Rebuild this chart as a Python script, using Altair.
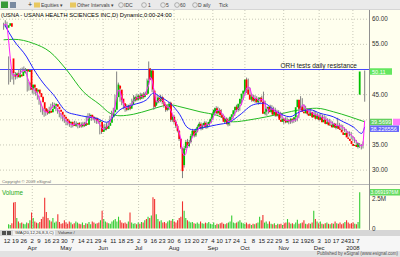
import altair as alt
import pandas as pd

HOLIDAYS = ["2007-04-06", "2007-05-28", "2007-07-04", "2007-09-03",
            "2007-11-22", "2007-12-25", "2008-01-01"]

OPEN = [58.3, 58.7, 59.2, 52.2, 49.0, 48.7, 49.2, 48.4, 49.0, 48.7,
        49.4, 49.7, 50.0, 49.5, 49.9, 46.2, 47.0, 46.3, 45.6, 46.0,
        45.3, 44.6, 43.5, 42.3, 41.8, 41.3, 41.8, 41.5, 42.2, 42.8,
        43.1, 42.6, 42.0, 41.6, 41.0, 40.6, 40.2, 39.8, 39.3, 39.6,
        39.0, 38.8, 39.2, 39.4, 39.0, 38.7, 39.2, 38.8, 39.3, 39.0,
        40.5, 41.0, 40.6, 40.2, 40.4, 39.8, 39.6, 39.6, 37.6, 38.0,
        38.6, 38.2, 38.8, 39.4, 40.5, 41.5, 42.0, 44.5, 46.8, 46.0,
        44.2, 43.3, 42.5, 42.0, 42.8, 42.2, 43.0, 43.8, 44.5, 44.0,
        44.8, 44.2, 45.0, 44.5, 45.2, 45.2, 50.2, 48.2, 49.8, 45.8,
        42.8, 43.5, 44.4, 43.8, 44.5, 43.5, 42.8, 42.0, 42.5, 43.4,
        40.0, 40.6, 39.6, 38.8, 37.8, 36.2, 34.3, 31.0, 34.4, 35.6,
        34.8, 35.6, 36.8, 37.8, 36.9, 37.9, 38.6, 39.2, 38.3, 38.9,
        39.4, 38.6, 39.1, 39.6, 40.2, 41.2, 41.4, 42.3, 41.3, 41.9,
        40.9, 40.5, 39.6, 40.2, 39.1, 39.8, 40.6, 41.1, 41.9, 42.6,
        42.0, 43.2, 44.2, 45.2, 45.6, 48.0, 46.0, 45.0, 44.0, 44.6,
        43.8, 44.3, 43.5, 44.1, 44.4, 43.6, 41.2, 41.6, 42.2, 42.6,
        41.5, 42.2, 41.0, 41.6, 40.8, 41.2, 40.0, 39.6, 40.2, 39.8,
        39.5, 40.0, 39.7, 40.2, 40.0, 40.5, 42.5, 44.0, 42.2, 42.6,
        41.6, 41.3, 42.0, 41.2, 40.8, 41.5, 40.5, 41.0, 40.2, 40.8,
        40.0, 40.5, 39.5, 40.0, 39.2, 39.5, 38.9, 39.0, 38.5, 39.2,
        38.4, 38.8, 38.2, 38.0, 37.5, 37.0, 37.4, 36.5, 36.2, 35.8,
        35.2, 34.8, 35.0, 34.6, 45.0]

HIGH = [59.3, 59.8, 59.5, 52.6, 50.0, 49.8, 49.6, 49.5, 49.4, 50.0,
        50.2, 50.4, 50.6, 50.3, 50.1, 47.6, 47.4, 46.8, 46.5, 46.3,
        45.6, 44.8, 43.7, 42.6, 42.3, 42.2, 42.1, 42.6, 43.2, 43.5,
        43.4, 42.9, 42.3, 41.9, 41.3, 40.9, 40.5, 40.1, 40.0, 39.9,
        39.4, 39.6, 39.8, 39.7, 39.3, 39.5, 39.5, 39.6, 39.6, 40.8,
        41.3, 41.3, 40.9, 40.8, 40.6, 40.1, 40.2, 39.7, 38.5, 39.0,
        39.2, 39.4, 39.7, 40.8, 41.8, 42.4, 45.0, 49.6, 47.4, 46.3,
        44.6, 43.6, 42.9, 43.1, 43.0, 43.3, 44.2, 44.9, 44.8, 45.2,
        45.1, 45.4, 45.3, 45.5, 45.6, 48.2, 51.6, 50.3, 50.0, 46.0,
        44.5, 45.0, 44.7, 45.0, 44.8, 43.8, 43.1, 43.0, 43.6, 43.6,
        41.0, 41.0, 40.0, 39.1, 38.0, 36.4, 34.5, 34.8, 36.0, 36.2,
        36.0, 37.2, 38.2, 38.0, 38.3, 39.0, 39.6, 39.5, 39.3, 39.7,
        39.7, 39.5, 40.0, 40.6, 41.6, 42.4, 42.7, 42.6, 42.3, 42.1,
        41.2, 40.8, 40.5, 40.4, 40.2, 41.0, 41.5, 42.3, 43.0, 43.0,
        43.6, 44.6, 45.6, 46.3, 48.4, 48.2, 46.4, 45.2, 45.0, 44.9,
        44.7, 44.5, 44.5, 44.8, 45.6, 43.8, 42.0, 42.6, 43.0, 42.9,
        42.6, 42.4, 42.0, 41.9, 41.6, 41.4, 40.3, 40.5, 40.5, 40.1,
        40.3, 40.3, 40.5, 40.5, 40.9, 42.8, 44.7, 44.3, 43.1, 42.8,
        42.0, 42.3, 42.2, 41.6, 41.8, 41.7, 41.3, 41.2, 41.3, 41.0,
        40.9, 40.7, 40.3, 40.2, 39.9, 39.7, 39.4, 39.3, 40.4, 39.4,
        39.1, 39.0, 38.5, 38.2, 37.8, 37.7, 37.6, 36.8, 36.5, 36.0,
        35.5, 35.4, 35.2, 35.7, 49.8]

LOW = [57.9, 58.4, 58.0, 47.0, 47.5, 48.0, 47.0, 48.0, 48.2, 48.4,
       49.1, 49.4, 49.3, 49.2, 45.6, 45.8, 45.9, 45.2, 45.1, 44.8,
       44.0, 43.0, 41.5, 41.0, 40.6, 40.8, 41.0, 41.2, 41.9, 42.4,
       42.2, 41.7, 41.2, 40.5, 40.2, 39.7, 39.4, 38.9, 38.9, 38.6,
       38.4, 38.5, 38.8, 38.6, 38.3, 38.4, 38.4, 38.5, 38.6, 38.8,
       40.2, 40.3, 39.8, 39.9, 39.4, 39.2, 39.2, 37.1, 37.2, 37.7,
       37.8, 37.9, 38.5, 39.2, 40.2, 41.1, 41.8, 44.2, 45.6, 43.6,
       42.9, 42.1, 41.6, 41.7, 41.9, 41.9, 42.7, 43.5, 43.6, 43.7,
       43.9, 43.9, 44.1, 44.2, 44.6, 45.0, 47.8, 47.9, 45.5, 42.0,
       42.4, 43.2, 43.3, 43.5, 43.1, 42.4, 41.6, 41.7, 41.9, 39.6,
       39.6, 39.2, 38.4, 37.5, 35.8, 34.2, 28.4, 30.5, 34.0, 34.4,
       34.5, 35.3, 36.5, 36.5, 36.6, 37.5, 38.3, 37.9, 38.0, 38.6,
       38.2, 38.3, 38.8, 39.3, 40.0, 40.9, 41.1, 41.0, 41.0, 40.6,
       40.1, 39.2, 39.3, 38.7, 38.8, 39.5, 40.2, 40.8, 41.5, 41.6,
       41.8, 42.9, 43.9, 44.8, 45.3, 45.6, 44.6, 43.6, 43.6, 43.4,
       43.4, 43.0, 43.1, 43.6, 43.2, 40.9, 40.8, 41.2, 41.8, 41.1,
       41.1, 40.6, 40.6, 40.4, 40.3, 39.6, 39.2, 39.3, 39.4, 39.1,
       39.2, 39.3, 39.4, 39.6, 39.7, 40.3, 42.2, 41.9, 41.8, 41.3,
       40.9, 41.0, 40.9, 40.4, 40.5, 40.1, 40.1, 39.8, 39.9, 39.6,
       39.7, 39.1, 39.1, 38.8, 38.8, 38.5, 38.5, 38.1, 38.2, 38.0,
       38.0, 37.8, 37.6, 37.1, 36.6, 36.7, 36.1, 35.8, 35.4, 34.8,
       34.3, 34.4, 34.1, 34.3, 43.6]

CLOSE = [58.8, 59.2, 58.5, 49.3, 48.6, 49.2, 48.5, 49.0, 48.6, 49.5,
         49.8, 50.0, 49.6, 49.9, 46.0, 47.0, 46.4, 45.6, 46.0, 45.2,
         44.5, 43.5, 42.2, 41.6, 41.3, 41.8, 41.4, 42.2, 42.8, 43.2,
         42.6, 42.1, 41.6, 41.0, 40.6, 40.2, 39.8, 39.3, 39.6, 39.0,
         38.8, 39.2, 39.4, 39.0, 38.7, 39.2, 38.8, 39.3, 39.0, 40.5,
         41.0, 40.6, 40.2, 40.4, 39.8, 39.6, 39.9, 37.6, 38.0, 38.6,
         38.2, 38.8, 39.4, 40.5, 41.5, 42.0, 44.5, 47.0, 46.2, 44.0,
         43.3, 42.5, 42.0, 42.8, 42.2, 43.0, 43.8, 44.5, 44.0, 44.8,
         44.2, 45.0, 44.5, 45.2, 45.0, 47.8, 48.0, 49.8, 46.0, 42.6,
         43.5, 44.4, 43.8, 44.5, 43.5, 42.8, 42.0, 42.5, 43.2, 40.0,
         40.6, 39.6, 38.8, 37.8, 36.2, 34.5, 29.8, 34.3, 35.6, 34.8,
         35.6, 36.8, 37.8, 36.9, 37.9, 38.6, 39.2, 38.3, 38.9, 39.4,
         38.6, 39.1, 39.6, 40.2, 41.2, 42.0, 42.3, 41.3, 41.9, 40.9,
         40.5, 39.6, 40.2, 39.1, 39.8, 40.6, 41.1, 41.9, 42.6, 42.0,
         43.2, 44.2, 45.2, 45.8, 48.0, 46.0, 45.0, 44.0, 44.6, 43.8,
         44.3, 43.5, 44.1, 44.4, 43.6, 41.2, 41.6, 42.2, 42.6, 41.5,
         42.2, 41.0, 41.6, 40.8, 41.2, 40.0, 39.6, 40.2, 39.8, 39.5,
         40.0, 39.7, 40.2, 40.0, 40.5, 42.5, 44.0, 42.2, 42.6, 41.6,
         41.3, 42.0, 41.2, 40.8, 41.5, 40.5, 41.0, 40.2, 40.8, 40.0,
         40.5, 39.5, 40.0, 39.2, 39.5, 38.9, 39.0, 38.5, 39.2, 38.4,
         38.8, 38.2, 38.0, 37.5, 37.0, 37.4, 36.5, 36.2, 35.8, 35.2,
         34.8, 35.0, 34.6, 35.4, 49.6]

VOLUME = [0.35, 0.3, 0.45, 2.2, 2.25, 0.9, 0.6, 0.45, 0.5, 0.4,
          0.35, 0.5, 0.45, 0.7, 1.35, 0.9, 0.6, 0.5, 0.45, 0.55,
          0.8, 1.0, 2.6, 1.4, 0.9, 0.7, 0.6, 0.9, 0.5, 0.6,
          1.2, 0.55, 0.4, 0.45, 0.7, 0.5, 0.4, 0.6, 0.5, 0.35,
          0.45, 0.6, 0.5, 0.4, 0.35, 0.5, 0.3, 0.45, 0.4, 0.55,
          0.35, 0.6, 0.5, 0.4, 0.45, 0.5, 0.7, 1.5, 0.8, 0.6,
          0.5, 0.45, 0.4, 0.6, 0.7, 0.8, 0.6, 1.0, 0.7, 0.5,
          0.45, 0.5, 0.4, 0.6, 1.35, 0.5, 0.4, 0.45, 0.35, 0.5,
          0.4, 0.55, 0.5, 0.7, 0.8, 1.0, 0.9, 1.1, 2.65, 2.5,
          1.2, 0.8, 0.6, 0.7, 0.5, 0.55, 0.45, 0.6, 0.7, 0.65,
          0.8, 0.6, 0.5, 0.7, 0.9, 1.0, 2.3, 1.5, 0.9, 0.7,
          0.6, 0.5, 0.55, 0.45, 0.4, 0.5, 0.4, 0.6, 0.45, 0.4,
          0.5, 0.45, 0.55, 0.4, 0.35, 0.5, 0.3, 0.4, 0.35, 0.45,
          0.5, 0.4, 0.35, 0.45, 0.5, 0.6, 1.1, 0.5, 0.45, 0.5,
          0.6, 0.7, 0.5, 0.45, 0.4, 0.5, 0.35, 0.4, 0.3, 0.4,
          0.35, 0.45, 0.5, 1.0, 0.7, 1.15, 0.5, 0.6, 0.4, 0.6,
          0.4, 0.35, 0.45, 0.3, 0.4, 0.35, 0.4, 0.3, 0.45, 0.5,
          0.8, 0.5, 0.4, 0.45, 0.35, 0.5, 0.75, 0.4, 0.45, 0.5,
          0.7, 0.4, 0.35, 0.45, 0.4, 0.5, 1.5, 0.8, 0.6, 0.45,
          0.6, 0.4, 0.35, 0.45, 0.5, 0.4, 0.35, 0.45, 0.4, 0.6,
          0.45, 0.4, 0.5, 0.35, 0.45, 0.55, 0.7, 0.5, 0.4, 0.45,
          0.5, 0.4, 0.35, 0.55, 3.07]

# moving averages (bar index, price)
GREEN_MA_IDX = [0, 6, 17.6, 27.5, 37.4, 47.2, 57.1, 63.1, 69, 76.9, 86.8, 92.7,
                98.6, 104.5, 116.4, 126.3, 136.1, 146, 155.9, 165.8, 175.6,
                185.5, 195.4, 205.3, 214]
GREEN_MA_VAL = [55.9, 56.0, 55.2, 53.5, 49.9, 45.6, 43.0, 41.3, 40.8, 41.1, 42.0, 42.6,
                43.0, 42.6, 41.6, 40.9, 39.6, 40.0, 40.6, 41.3, 42.0,
                42.3, 41.6, 40.6, 39.6]
BLUE_MA_IDX = [0.8, 5.8, 13.7, 17.6, 23.5, 29.5, 37.4, 43.3, 49.2, 55.2, 61.1, 65,
               69, 76.9, 84.8, 88.7, 92.7, 98.6, 104.5, 108.5, 112.4, 116.4, 126.3,
               134.2, 140.1, 148, 153.9, 161.8, 169.7, 175.6, 181.6, 187.5, 195.4,
               201.3, 207.2, 212.2, 214]
BLUE_MA_VAL = [58.8, 55.9, 52.5, 50.2, 47.3, 45.0, 41.6, 41.0, 40.6, 40.3, 39.5, 40.6,
               42.0, 43.0, 44.0, 45.3, 44.6, 43.3, 41.0, 38.6, 38.0, 38.3, 39.0,
               39.6, 41.0, 43.0, 43.3, 41.6, 40.6, 41.6, 42.0, 41.3, 40.6,
               39.6, 38.6, 37.3, 38.6]

PRICE_TICKS = [60, 55, 50, 45, 40, 35, 30]
PRICE_TICK_LABELS = ["60.00", "55.00", "", "45.00", "", "35.00", "30.00"]
RESISTANCE = 50.0
RESIST_LABEL = "ORH tests daily resistance"
VOL_TICK_VALUES = [2.5, 0]
VOL_TICK_LABELS = ["2.5M", "0"]
LAST_LABEL = "50.11"
GREEN_LABEL, GREEN_LAST = "39.5699", 39.57
BLUE_LABEL, BLUE_LAST = "38.226556", 38.23
PINK_LABEL = "41.22"
VOL_LAST_LABEL = "3.0691976M"
TITLE = "(USNA - USANA HEALTH SCIENCES INC,D) Dynamic,0:00-24:00"

FONT = "Liberation Sans"

days = [d for d in pd.bdate_range("2007-03-08", "2008-01-11")
        if d.strftime("%Y-%m-%d") not in HOLIDAYS]
n = len(days)
df = pd.DataFrame({"idx": range(n), "date": days, "O": OPEN, "H": HIGH,
                   "L": LOW, "C": CLOSE, "V": VOLUME})
df["col"] = ["#00C000" if c >= o else "#FF0000" for o, c in zip(OPEN, CLOSE)]
df["vcol"] = ["#33CC33" if c >= o else "#F03030" for o, c in zip(OPEN, CLOSE)]

wk = df[df["date"] >= pd.Timestamp("2007-03-12")].copy()
iso = wk["date"].dt.isocalendar()
wk["week"] = iso.week.astype(int) + 100 * iso.year.astype(int)
weeks = wk.groupby("week").first().reset_index()
weeks["label"] = weeks["date"].dt.day.astype(str)
mo = df.copy()
mo["ym"] = mo["date"].dt.year * 100 + mo["date"].dt.month
months = mo.groupby("ym").first().reset_index().iloc[1:].copy()
months["label"] = [("2008" if d.month == 1 else d.strftime("%b")) for d in months["date"]]
weeks = weeks[["idx", "label"]]
months = months[["idx", "label"]]
dfp = df.drop(columns=["date"])

X0, X1 = 3.6, 364.7
xs = alt.Scale(domain=[0, n - 1], range=[X0, X1], nice=False, zero=False)
ysp = alt.Scale(domain=[30, 60], range=[170.1, 19.2], nice=False, zero=False)
ysv = alt.Scale(domain=[0, 2.5], range=[228.5, 199.0], nice=False, zero=False)
X = alt.X("idx:Q", scale=xs, axis=None)
PLOT_R = 369

# ---------- chrome rectangles ----------
rects = pd.DataFrame([
    dict(x=0, x2=400, y=0, y2=10, f="#EAEAEA"),
    dict(x=0, x2=400, y=10, y2=184, f="#FFFFEE"),
    dict(x=0, x2=400, y=184, y2=185, f="#B8B8B8"),
    dict(x=0, x2=400, y=185, y2=230, f="#FFFFEE"),
    dict(x=0, x2=400, y=230, y2=236, f="#D6D6D6"),
    dict(x=0, x2=400, y=236, y2=251, f="#F6F6F6"),
    dict(x=0, x2=400, y=251, y2=257, f="#E2E2E2"),
    dict(x=PLOT_R, x2=PLOT_R + 1, y=10, y2=230, f="#909090"),
    dict(x=13, x2=55, y=230.5, y2=235.5, f="#F4F4F4"),
    dict(x=0, x2=400, y=9.5, y2=10, f="#C0C0C0"),
])
bg = alt.Chart(rects).mark_rect().encode(
    x=alt.X("x:Q", scale=None), x2="x2:Q",
    y=alt.Y("y:Q", scale=None), y2="y2:Q",
    color=alt.Color("f:N", scale=None))

# ---------- grid ----------
vgrid_p = alt.Chart(months).mark_rule(color="#C8C8B8", strokeDash=[1, 2], strokeWidth=1).encode(
    x=alt.X("idx:Q", scale=xs, axis=None), y=alt.value(10), y2=alt.value(184))
vgrid_v = alt.Chart(months).mark_rule(color="#C8C8B8", strokeDash=[1, 2], strokeWidth=1).encode(
    x=alt.X("idx:Q", scale=xs, axis=None), y=alt.value(186), y2=alt.value(229))
ptick_df = pd.DataFrame({"p": PRICE_TICKS, "label": PRICE_TICK_LABELS})
hgrid = alt.Chart(ptick_df).mark_rule(color="#C8C8B8", strokeDash=[1, 2]).encode(
    y=alt.Y("p:Q", scale=ysp, axis=None), x=alt.value(0), x2=alt.value(PLOT_R))

res_df = pd.DataFrame({"p": [RESISTANCE], "label": [RESIST_LABEL]})
res_line = alt.Chart(res_df).mark_rule(color="#4848FF", strokeWidth=1).encode(
    y=alt.Y("p:Q", scale=ysp, axis=None), x=alt.value(0), x2=alt.value(PLOT_R))
res_text = alt.Chart(res_df).mark_text(font=FONT, fontSize=6.5, align="right", baseline="bottom",
                                       dy=-1, color="#202020").encode(
    y=alt.Y("p:Q", scale=ysp, axis=None), x=alt.value(357), text="label:N")

# ---------- moving averages ----------
green_df = pd.DataFrame({"idx": GREEN_MA_IDX, "m": GREEN_MA_VAL})
blue_df = pd.DataFrame({"idx": BLUE_MA_IDX, "m": BLUE_MA_VAL})
ma_green = alt.Chart(green_df).mark_line(color="#22BB22", strokeWidth=1, interpolate="monotone").encode(
    x=X, y=alt.Y("m:Q", scale=ysp, axis=None))
ma_blue = alt.Chart(blue_df).mark_line(color="#2222FF", strokeWidth=1, interpolate="monotone").encode(
    x=X, y=alt.Y("m:Q", scale=ysp, axis=None))
ma_pink = alt.Chart(dfp).transform_window(
    m="mean(C)", frame=[-2, 0], sort=[alt.SortField("idx")]
).mark_line(color="#FF22FF", strokeWidth=1).encode(
    x=X, y=alt.Y("m:Q", scale=ysp, axis=None))

# ---------- candles ----------
wicks = alt.Chart(dfp).mark_rule(color="#808080", strokeWidth=1).encode(
    x=X, y=alt.Y("L:Q", scale=ysp, axis=None), y2="H:Q")
bodies = alt.Chart(dfp).mark_bar(size=1.8).encode(
    x=X, y=alt.Y("O:Q", scale=ysp, axis=None), y2="C:Q",
    color=alt.Color("col:N", scale=None))

# ---------- volume ----------
vol = alt.Chart(dfp).mark_bar(size=1.1).encode(
    x=X, y=alt.Y("V:Q", scale=ysv, axis=None), y2=alt.datum(0),
    color=alt.Color("vcol:N", scale=None))

# ---------- right axis labels ----------
plabels = alt.Chart(ptick_df).mark_text(font=FONT, fontSize=6.3, align="left", baseline="middle",
                                        color="#303030").encode(
    y=alt.Y("p:Q", scale=ysp, axis=None), x=alt.value(372), text="label:N")
vt_df = pd.DataFrame({"v": VOL_TICK_VALUES, "label": VOL_TICK_LABELS})
vlabels = alt.Chart(vt_df).mark_text(font=FONT, fontSize=6.3, align="left", baseline="middle",
                                     color="#303030").encode(
    y=alt.Y("v:Q", scale=ysv, axis=None), x=alt.value(372), text="label:N")

box_df = pd.DataFrame([
    dict(p=CLOSE[-1], label=LAST_LABEL, f="#22DD22", xc=381, w=22, tx=372),
    dict(p=GREEN_LAST, label=GREEN_LABEL, f="#22BB22", xc=381, w=22, tx=371),
    dict(p=BLUE_LAST, label=BLUE_LABEL, f="#2222FF", xc=384.5, w=29, tx=370.5),
])
pink_df = pd.DataFrame([dict(p=GREEN_LAST, label=PINK_LABEL, f="#FF44FF", xc=396.5, w=7, tx=393)])
boxes = alt.Chart(pd.concat([box_df, pink_df])).mark_tick(thickness=6.5, orient="horizontal").encode(
    y=alt.Y("p:Q", scale=ysp, axis=None), x=alt.X("xc:Q", scale=None),
    size=alt.Size("w:Q", scale=None), color=alt.Color("f:N", scale=None))
box_text = alt.Chart(box_df).mark_text(font=FONT, fontSize=5.6, align="left", baseline="middle",
                                       color="#FFFFFF").encode(
    y=alt.Y("p:Q", scale=ysp, axis=None), x=alt.X("tx:Q", scale=None), text="label:N")

vbox_df = pd.DataFrame([dict(v=VOLUME[-1], label=VOL_LAST_LABEL)])
vbox = alt.Chart(vbox_df).mark_tick(thickness=6.5, orient="horizontal", size=30, color="#22CC22").encode(
    y=alt.Y("v:Q", scale=ysv, axis=None), x=alt.value(385))
vbox_text = alt.Chart(vbox_df).mark_text(font=FONT, fontSize=5.0, align="left", baseline="middle",
                                         color="#FFFFFF").encode(
    y=alt.Y("v:Q", scale=ysv, axis=None), x=alt.value(370.5), text="label:N")

# ---------- date axis ----------
wlabels = alt.Chart(weeks).mark_text(font=FONT, fontSize=6, baseline="middle", color="#202020").encode(
    x=alt.X("idx:Q", scale=xs, axis=None), y=alt.value(241), text="label:N")
mlabels = alt.Chart(months).mark_text(font=FONT, fontSize=6, baseline="middle", color="#202020").encode(
    x=alt.X("idx:Q", scale=xs, axis=None), y=alt.value(247.5), text="label:N")

# ---------- chrome text ----------
texts = pd.DataFrame([
    dict(x=1, y=14.5, t=TITLE, c="#000000", s=5.8),
    dict(x=2, y=182, t="Copyright \u00a9 2009 eSignal", c="#707070", s=4.3),
    dict(x=2, y=193, t="Volume", c="#22AA22", s=6.3),
    dict(x=15, y=233.2, t="\\MA(20,12,26,8,3,C)", c="#303030", s=4.3),
    dict(x=58, y=233.2, t="Volume /", c="#303030", s=4.3),
    dict(x=41, y=5, t="Equities \u25be", c="#404040", s=5),
    dict(x=77, y=5, t="Other Intervals \u25be", c="#404040", s=5),
    dict(x=124, y=5, t="IDC", c="#404040", s=5),
    dict(x=148, y=5, t="1", c="#404040", s=5),
    dict(x=166, y=5, t="5", c="#404040", s=5),
    dict(x=180, y=5, t="60", c="#404040", s=5),
    dict(x=198, y=5, t="D", c="#404040", s=5),
    dict(x=203, y=5, t="aily", c="#404040", s=5),
    dict(x=219, y=5, t="Tick", c="#404040", s=5),
    dict(x=28, y=5, t="+", c="#303030", s=7),
])
chrome_text = alt.Chart(texts).mark_text(font=FONT, baseline="middle", align="left").encode(
    x=alt.X("x:Q", scale=None), y=alt.Y("y:Q", scale=None), text="t:N",
    color=alt.Color("c:N", scale=None), size=alt.Size("s:Q", scale=None))
status = pd.DataFrame([dict(t="Published by eSignal (www.esignal.com)")])
status_text = alt.Chart(status).mark_text(font=FONT, fontSize=4.5, baseline="middle", align="right",
                                          color="#505050").encode(
    x=alt.value(398), y=alt.value(254.3), text="t:N")

icons = pd.DataFrame([
    dict(x=1, x2=8, y=1.5, y2=8, f="#3A9A3A"),
    dict(x=10, x2=16, y=2, y2=8, f="#7A8AA0"),
    dict(x=34, x2=40, y=2.5, y2=7.5, f="#E8C860"),
    dict(x=70, x2=76, y=2.5, y2=7.5, f="#E8C860"),
    dict(x=2, x2=6, y=231, y2=235, f="#505050"),
    dict(x=7, x2=11, y=231, y2=235, f="#505050"),
])
icon_layer = alt.Chart(icons).mark_rect().encode(
    x=alt.X("x:Q", scale=None), x2="x2:Q",
    y=alt.Y("y:Q", scale=None), y2="y2:Q",
    color=alt.Color("f:N", scale=None))
circ = pd.DataFrame([dict(x=121), dict(x=144), dict(x=163), dict(x=177), dict(x=195)])
circles = alt.Chart(circ).mark_point(shape="circle", size=22, filled=False, color="#606060",
                                     strokeWidth=0.6).encode(
    x=alt.X("x:Q", scale=None), y=alt.value(5))

chart = alt.layer(
    bg, icon_layer, circles, vgrid_p, vgrid_v, hgrid, res_line, res_text,
    ma_green, wicks, bodies, ma_blue, ma_pink, vol,
    plabels, vlabels, boxes, box_text, vbox, vbox_text,
    wlabels, mlabels, chrome_text, status_text
).resolve_scale(
    x="independent", y="independent", color="independent", size="independent"
).properties(
    width=400, height=257, autosize="none", padding=0, background="#FFFFFF"
).configure_view(stroke=None)

chart.save("out.html", embed_options={"renderer": "svg", "actions": False})
